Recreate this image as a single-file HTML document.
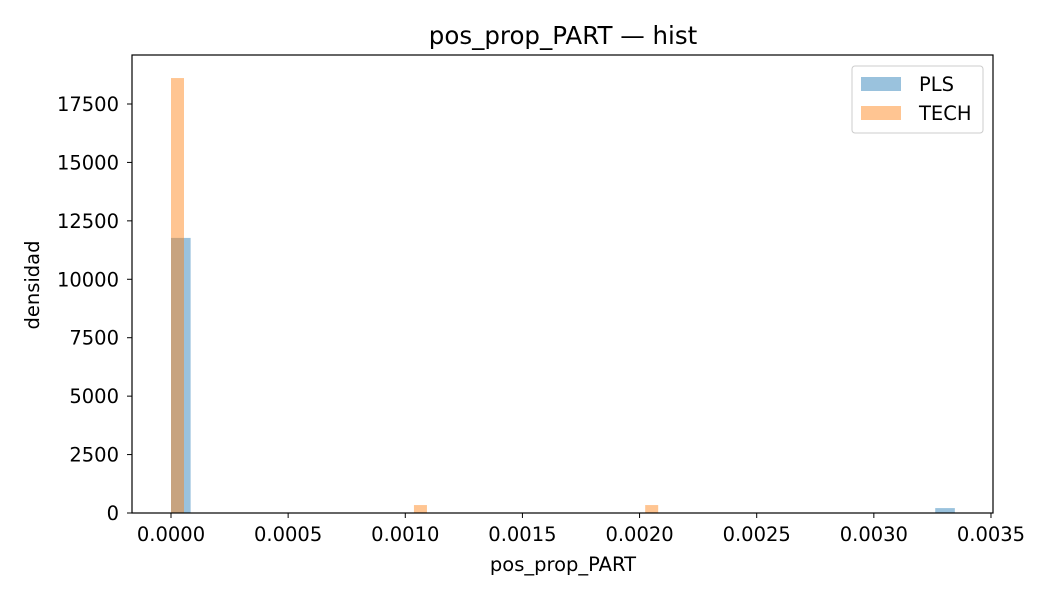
<!DOCTYPE html>
<html><head><meta charset="utf-8"><style>
body{margin:0;background:#fff;font-family:"Liberation Sans","DejaVu Sans",sans-serif;}
svg text{font-family:"DejaVu Sans","Liberation Sans",sans-serif;fill:#000;}
</style></head><body>
<svg id="chart" width="1050" height="600">
<rect width="1050" height="600" fill="#fff"/>
<text x="563" y="44" font-size="24.5" text-anchor="middle">pos_prop_PART — hist</text>
<g id="bars"></g>
<g id="axes"></g>
<rect x="132" y="55" width="861" height="458" fill="none" stroke="#000" stroke-width="1.2"/>
<text x="563" y="571" font-size="19.5" text-anchor="middle">pos_prop_PART</text>
<text transform="translate(39,285) rotate(-90)" font-size="19.5" text-anchor="middle">densidad</text>
<g>
<rect x="852" y="66" width="131" height="67" rx="3" fill="#fff" stroke="#ccc"/>
<rect x="861" y="77" width="40" height="14" fill="#1f77b4" fill-opacity="0.45"/>
<text x="919" y="91" font-size="19.5">PLS</text>
<rect x="861" y="106" width="40" height="14" fill="#ff7f0e" fill-opacity="0.45"/>
<text x="919" y="120" font-size="19.5">TECH</text>
</g>
</svg>
<script>
const plsStarts=[0.0,0.003262];
const plsValues=[11770,210];
const plsWidth=0.0000838;
const techStarts=[0.0,0.001037,0.002024];
const techValues=[18610,340,340];
const techWidth=0.0000555;
const xTicks=[0,0.0005,0.001,0.0015,0.002,0.0025,0.003,0.0035];
const xTickLabels=["0.0000","0.0005","0.0010","0.0015","0.0020","0.0025","0.0030","0.0035"];
const yTicks=[0,2500,5000,7500,10000,12500,15000,17500];
const yTickLabels=["0","2500","5000","7500","10000","12500","15000","17500"];
const NS="http://www.w3.org/2000/svg";
const x=v=>171+v/0.0005*117.14;
const y=v=>513-v/2500*58.43;
const bars=document.getElementById('bars'),axes=document.getElementById('axes');
function drawSeries(starts,vals,w,color,name){
 starts.forEach((s,i)=>{
  const r=document.createElementNS(NS,'rect');
  r.setAttribute('x',x(s));r.setAttribute('width',x(s+w)-x(s));
  r.setAttribute('y',y(vals[i]));r.setAttribute('height',513-y(vals[i]));
  r.setAttribute('fill',color);r.setAttribute('fill-opacity','0.45');
  
  
  bars.appendChild(r);
 });
}
drawSeries(plsStarts,plsValues,plsWidth,'#1f77b4','pls');
drawSeries(techStarts,techValues,techWidth,'#ff7f0e','tech');
xTicks.forEach((t,i)=>{
 const l=document.createElementNS(NS,'line');
 l.setAttribute('x1',x(t));l.setAttribute('x2',x(t));l.setAttribute('y1',513);l.setAttribute('y2',518);l.setAttribute('stroke','#000');
 
 
 axes.appendChild(l);
 const tx=document.createElementNS(NS,'text');
 tx.setAttribute('x',x(t));tx.setAttribute('y',541);tx.setAttribute('font-size','19.5');tx.setAttribute('text-anchor','middle');
 tx.textContent=xTickLabels[i];
 
 
 axes.appendChild(tx);
});
yTicks.forEach((t,i)=>{
 const l=document.createElementNS(NS,'line');
 l.setAttribute('x1',127);l.setAttribute('x2',132);l.setAttribute('y1',y(t));l.setAttribute('y2',y(t));l.setAttribute('stroke','#000');
 
 
 axes.appendChild(l);
 const tx=document.createElementNS(NS,'text');
 tx.setAttribute('x',119);tx.setAttribute('y',y(t)+7);tx.setAttribute('font-size','19.5');tx.setAttribute('text-anchor','end');
 tx.textContent=yTickLabels[i];
 
 
 axes.appendChild(tx);
});
</script>
</body></html>
